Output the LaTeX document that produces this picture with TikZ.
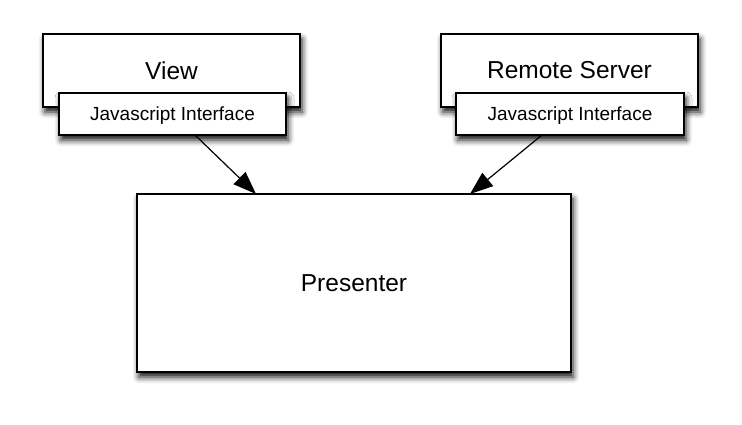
\documentclass[tikz,border=0pt]{standalone}
\usepackage{fontspec}
\setmainfont{Liberation Sans}
\usetikzlibrary{arrows.meta,shadows.blur}
\tikzset{
  box/.style={draw=black, fill=white, line width=1.2pt, rectangle, inner sep=0pt,
    blur shadow={shadow xshift=2pt, shadow yshift=-5pt, shadow blur radius=6pt, shadow opacity=95}},
  big/.style={font=\fontsize{24.5}{28}\selectfont},
  small/.style={font=\fontsize{19}{22}\selectfont, text depth=0pt},
  conn/.style={line width=1.2pt, -{Triangle[length=23pt,width=17pt]}}
}
\begin{document}
\begin{tikzpicture}[x=1pt,y=-1pt]
\useasboundingbox (0,0) rectangle (742,424);
\node[box, big, minimum width=257pt, minimum height=73pt] (view) at (171.5,70.5) {View};
\node[box, small, minimum width=227pt, minimum height=42pt] (vji) at (172.5,114) {Javascript Interface};
\node[box, big, minimum width=257pt, minimum height=73pt] (rs) at (569.5,70.5) {Remote Server};
\node[box, small, minimum width=228pt, minimum height=42pt] (rji) at (570,114) {Javascript Interface};
\node[box, big, minimum width=434pt, minimum height=178pt] (pres) at (354,283) {Presenter};
\coordinate (a1) at (195,135);
\coordinate (b1) at (256,194);
\coordinate (a2) at (542,135);
\coordinate (b2) at (470,194);
\draw[conn] (a1) -- (b1);
\draw[conn] (a2) -- (b2);
\end{tikzpicture}
\end{document}
